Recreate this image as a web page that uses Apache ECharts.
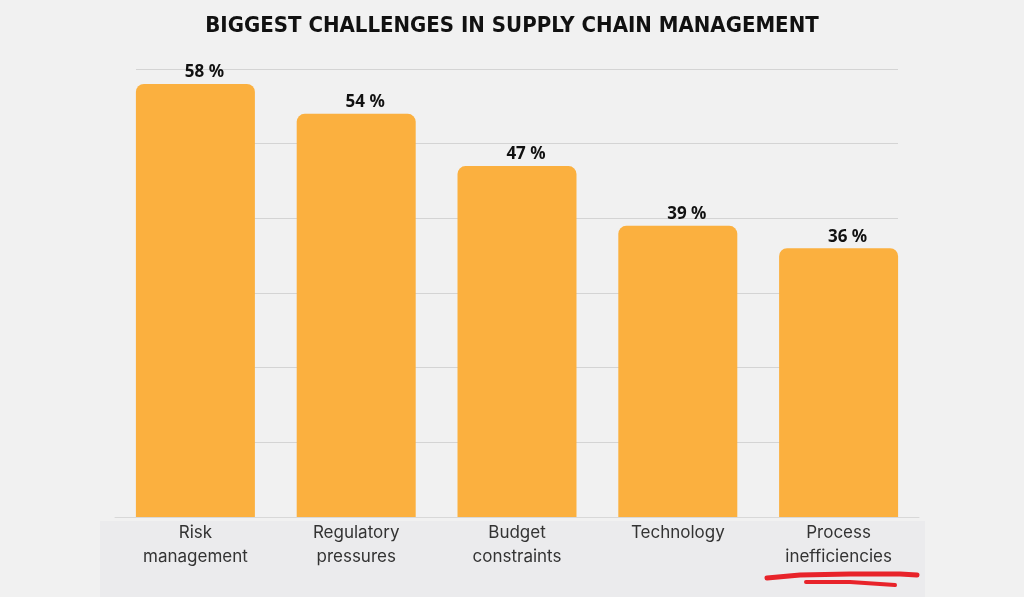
<!DOCTYPE html>
<html><head><meta charset="utf-8">
<script src="https://cdn.jsdelivr.net/npm/echarts@6/dist/echarts.min.js"></script>
<style>html,body{margin:0;padding:0;background:#f1f1f1;}#c{width:1024px;height:597px;}</style>
</head><body><div id="c"></div>
<script>
const categories = ['Risk\nmanagement', 'Regulatory\npressures', 'Budget\nconstraints', 'Technology', 'Process\ninefficiencies'];
const values = [58, 54, 47, 39, 36];
const titleText = 'BIGGEST CHALLENGES IN SUPPLY CHAIN MANAGEMENT';

const chart = echarts.init(document.getElementById('c'));
chart.setOption({
  backgroundColor: '#f1f1f1',
  animation: false,
  title: {
    text: titleText, left: 'center', top: 10,
    textStyle: { fontFamily: '"Liberation Sans Narrow", "DejaVu Sans Condensed", sans-serif', fontWeight: 'bold', fontSize: 22, color: '#111' }
  },
  graphic: [
    { type: 'rect', z: -10, shape: { x: 100, y: 521, width: 825, height: 80 }, style: { fill: '#ebebed' } },
    { type: 'polyline', z: 10, shape: { points: [[767,578],[800,575],[850,574],[900,574],[917,575]] }, style: { stroke: '#e8232a', lineWidth: 5, fill: null, lineCap: 'round' } },
    { type: 'polyline', z: 10, shape: { points: [[806,582],[850,582],[895,585]] }, style: { stroke: '#e8232a', lineWidth: 4, fill: null, lineCap: 'round' } }
  ],
  grid: [
    { left: 136, right: 126, top: 69, bottom: 80 },
    { left: 115, right: 105, top: 69, bottom: 80 }
  ],
  xAxis: [
    { gridIndex: 0, type: 'category', data: categories, show: false },
    { gridIndex: 1, type: 'category', data: categories,
      axisLine: { show: true, lineStyle: { color: '#d8d8d8', width: 1 } },
      axisTick: { show: false },
      axisLabel: { color: '#333', fontSize: 17, lineHeight: 24, margin: 4, fontFamily: 'Inter, "Noto Sans", sans-serif' } }
  ],
  yAxis: [
    { gridIndex: 0, type: 'value', min: 0, max: 60, interval: 10, axisLabel: { show: false }, axisLine: { show: false }, axisTick: { show: false },
      splitLine: { lineStyle: { color: '#d4d4d4', width: 1 } } },
    { gridIndex: 1, type: 'value', min: 0, max: 60, interval: 10, show: false, splitLine: { show: false } }
  ],
  series: [
    { type: 'bar', xAxisIndex: 1, yAxisIndex: 1, data: values, barCategoryGap: '26%',
      itemStyle: { color: '#fbb03f', borderRadius: [8, 8, 0, 0] },
      label: { show: true, position: 'top', distance: 3, offset: [9, 0], formatter: '{c} %', color: '#111', fontWeight: 'bold', fontSize: 17, fontFamily: '"Noto Sans", sans-serif' } }
  ]
});
</script></body></html>
